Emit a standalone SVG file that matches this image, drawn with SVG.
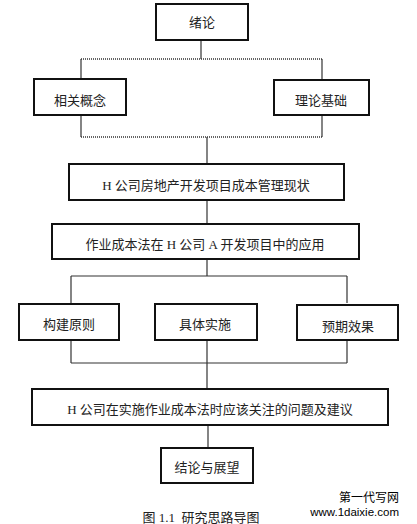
<svg xmlns="http://www.w3.org/2000/svg" width="417" height="524" viewBox="0 0 417 524">
<style>
.box{fill:#fff;stroke:#111;stroke-width:2}
.t{font-family:"Liberation Serif","Noto Sans CJK SC",serif;font-size:13px;fill:#222;text-anchor:middle;dominant-baseline:central}
.ln{stroke:#333;stroke-width:1.2;fill:none}
.dt{stroke:#333;stroke-width:1.5;fill:none;stroke-dasharray:1 1}
</style>
<rect width="417" height="524" fill="#fff"/>
<g id="connectors">
<line class="ln" x1="201" y1="40" x2="201" y2="59"/>
<line class="dt" x1="81" y1="59" x2="322" y2="59"/>
<line class="ln" x1="81" y1="59" x2="81" y2="79"/>
<line class="ln" x1="322" y1="59" x2="322" y2="79"/>
<line class="ln" x1="81" y1="115" x2="81" y2="137"/>
<line class="ln" x1="322" y1="115" x2="322" y2="137"/>
<line class="dt" x1="81" y1="137" x2="322" y2="137"/>
<line class="ln" x1="207" y1="137" x2="207" y2="163"/>
<line class="ln" x1="207" y1="200" x2="207" y2="223"/>
<line class="ln" x1="207" y1="259" x2="207" y2="276"/>
<line class="ln" x1="71" y1="276" x2="347" y2="276"/>
<line class="ln" x1="71" y1="276" x2="71" y2="303"/>
<line class="ln" x1="347" y1="276" x2="347" y2="303"/>
<line class="ln" x1="71" y1="340" x2="71" y2="363"/>
<line class="ln" x1="207" y1="340" x2="207" y2="388"/>
<line class="ln" x1="347" y1="340" x2="347" y2="363"/>
<line class="ln" x1="71" y1="363" x2="347" y2="363"/>
<line class="ln" x1="208" y1="425" x2="208" y2="448"/>
</g>
<g id="n1"><rect class="box" x="156" y="4" width="92" height="36"/><text class="t" x="202" y="22">绪论</text></g>
<g id="n2"><rect class="box" x="34" y="79" width="92" height="36"/><text class="t" x="80" y="100">相关概念</text></g>
<g id="n3"><rect class="box" x="274" y="80" width="95" height="35"/><text class="t" x="321" y="100">理论基础</text></g>
<g id="n4"><rect class="box" x="69" y="164" width="275" height="36"/><text class="t" x="206" y="185">H 公司房地产开发项目成本管理现状</text></g>
<g id="n5"><rect class="box" x="52" y="224" width="307" height="35"/><text class="t" x="205" y="244">作业成本法在 H 公司 A 开发项目中的应用</text></g>
<g id="n6"><rect class="box" x="19" y="304" width="100" height="36"/><text class="t" x="69" y="324">构建原则</text></g>
<g id="n7"><rect class="box" x="155" y="304" width="102" height="36"/><text class="t" x="205" y="324">具体实施</text></g>
<g id="n8"><rect class="box" x="297" y="305" width="101" height="35"/><text class="t" x="348" y="326">预期效果</text></g>
<g id="n9"><rect class="box" x="32" y="389" width="356" height="36"/><text class="t" x="210" y="409">H 公司在实施作业成本法时应该关注的问题及建议</text></g>
<g id="n10"><rect class="box" x="161" y="448" width="92" height="35"/><text class="t" x="207" y="467">结论与展望</text></g>
<text class="t" x="201" y="517" font-size="12.5">图 1.1&#160;&#160;研究思路导图</text>
<text x="399" y="498" font-family="'Liberation Sans','Noto Sans CJK SC',sans-serif" font-size="12" text-anchor="end" dominant-baseline="central" fill="#000">第一代写网</text>
<text x="399" y="512" font-family="'Liberation Sans','Noto Sans CJK SC',sans-serif" font-size="11.5" text-anchor="end" dominant-baseline="central" fill="#000">www.1daixie.com</text>
</svg>
